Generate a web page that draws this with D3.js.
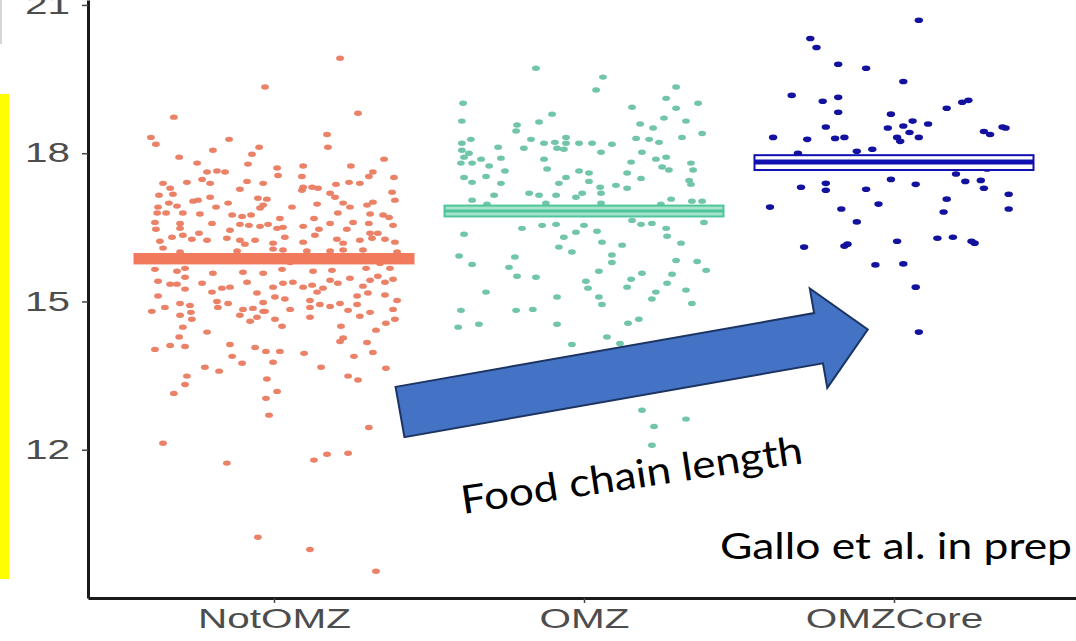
<!DOCTYPE html>
<html>
<head>
<meta charset="utf-8">
<script src="https://cdn.jsdelivr.net/npm/d3@7"></script>
<style>
  html, body { margin: 0; padding: 0; background: #fff; overflow: hidden; }
  svg { display: block; }
</style>
</head>
<body>
<svg id="chart" width="1076" height="641"></svg>
<script>
// ---- data ----
const categories = ["NotOMZ", "OMZ", "OMZCore"];
const yTicks = [12, 15, 18, 21];

// group mean and its interval (crossbars)
const groupMeans = [15.86, 16.83, 17.82];
const groupLow   = [15.77, 16.72, 17.66];
const groupHigh  = [15.96, 16.94, 17.96];

// individual samples: [horizontal jitter (fraction of category step), value]
const notOMZPoints = [
  [0.213,19.92],[-0.029,19.34],[0.271,18.81],[-0.323,18.73],[-0.397,18.32],[-0.381,18.18],[-0.145,18.28],[0.171,18.38],
  [0.174,18.12],[-0.048,18.12],[-0.197,18.06],[-0.071,17.98],[-0.306,17.92],[-0.084,17.78],[-0.248,17.80],[0.355,17.88],
  [0.010,17.70],[0.094,17.74],[0.248,17.74],[-0.216,17.62],[-0.184,17.64],[-0.158,17.62],[0.013,17.55],[0.090,17.53],
  [0.319,17.62],[0.306,17.53],[0.387,17.51],[-0.281,17.41],[-0.232,17.47],[-0.206,17.39],[-0.087,17.43],[-0.035,17.39],
  [0.094,17.31],[0.123,17.31],[0.142,17.29],[0.200,17.37],[0.242,17.41],[0.277,17.39],[-0.358,17.39],[-0.335,17.29],
  [-0.110,17.27],[0.090,17.25],[-0.371,17.15],[-0.326,17.17],[-0.206,17.11],[-0.052,17.09],[-0.023,17.07],[0.181,17.19],
  [0.197,17.11],[0.381,17.21],[-0.261,17.03],[-0.245,17.05],[0.390,17.05],[-0.339,16.99],[-0.148,16.99],[-0.035,16.95],
  [0.223,16.99],[0.139,16.97],[0.319,17.01],[0.300,16.95],[-0.374,16.91],[-0.313,16.93],[-0.187,16.91],[0.058,16.91],
  [-0.045,16.89],[0.245,16.91],[-0.377,16.79],[-0.348,16.79],[-0.294,16.79],[-0.239,16.77],[-0.135,16.75],[-0.103,16.72],
  [-0.074,16.75],[0.019,16.68],[0.129,16.68],[0.206,16.79],[0.310,16.77],[0.352,16.75],[0.371,16.70],[-0.384,16.60],
  [-0.303,16.58],[-0.200,16.58],[-0.110,16.56],[-0.081,16.54],[-0.045,16.52],[-0.019,16.56],[0.029,16.50],[0.094,16.52],
  [0.181,16.58],[0.255,16.60],[0.306,16.58],[0.384,16.54],[-0.381,16.46],[-0.303,16.48],[-0.142,16.44],[0.010,16.48],
  [0.145,16.46],[0.235,16.46],[0.310,16.38],[0.335,16.38],[-0.368,16.22],[-0.329,16.30],[-0.294,16.34],[-0.265,16.26],
  [-0.242,16.38],[-0.216,16.24],[-0.152,16.28],[-0.110,16.24],[-0.094,16.16],[-0.061,16.24],[-0.003,16.18],[0.035,16.30],
  [0.094,16.20],[0.132,16.34],[0.203,16.26],[0.223,16.18],[0.277,16.24],[0.316,16.28],[0.358,16.26],[0.390,16.20],
  [-0.358,16.08],[-0.303,16.00],[-0.119,16.02],[-0.003,16.06],[0.029,16.04],[0.106,16.02],[0.181,16.02],[0.223,16.04],
  [0.287,16.04],[0.397,16.00],[-0.239,15.87],[0.052,15.79],[0.213,15.91],[-0.368,15.83],[0.342,15.77],
  [-0.384,15.65],[-0.313,15.61],[-0.287,15.67],[-0.197,15.57],[-0.100,15.59],[-0.035,15.57],[0.026,15.65],[0.126,15.61],
  [0.187,15.63],[0.297,15.67],[0.374,15.67],[-0.374,15.41],[-0.335,15.35],[-0.313,15.35],[-0.287,15.49],[-0.287,15.25],
  [-0.232,15.37],[-0.200,15.19],[-0.168,15.27],[-0.142,15.29],[-0.087,15.39],[-0.055,15.17],[-0.003,15.29],[0.029,15.37],
  [0.061,15.39],[0.094,15.29],[0.123,15.33],[0.139,15.19],[0.158,15.27],[0.181,15.43],[0.206,15.37],[0.245,15.47],
  [0.287,15.31],[0.310,15.43],[0.335,15.51],[0.358,15.39],[0.384,15.45],[-0.374,15.11],[-0.303,14.96],[-0.271,14.92],
  [-0.184,15.00],[-0.148,14.96],[-0.181,14.88],[-0.100,14.84],[-0.068,14.86],[-0.035,14.98],[-0.035,14.80],[0.003,15.09],
  [0.035,15.05],[0.052,14.84],[0.116,15.02],[0.116,14.88],[0.148,14.94],[0.181,14.90],[0.213,14.96],[0.268,14.94],
  [0.268,15.11],[0.303,15.17],[0.358,15.13],[0.397,15.02],[-0.394,14.80],[-0.352,14.88],[-0.303,14.72],[-0.268,14.78],
  [-0.265,14.64],[-0.110,14.72],[-0.077,14.60],[-0.055,14.68],[-0.029,14.80],[0.003,14.64],[0.116,14.68],[0.239,14.82],
  [0.277,14.70],[0.310,14.78],[0.384,14.84],[0.390,14.64],[-0.294,14.48],[-0.216,14.38],[0.026,14.50],[0.216,14.50],
  [0.223,14.26],[0.213,14.19],[0.329,14.42],[0.361,14.56],[-0.306,14.28],[-0.384,14.03],[-0.335,14.11],[-0.287,14.09],
  [-0.142,14.13],[-0.135,13.89],[-0.061,14.07],[-0.026,13.99],[0.019,13.99],[0.097,13.95],[-0.103,13.75],[-0.003,13.77],
  [0.258,13.89],[0.300,14.17],[0.319,13.97],[-0.223,13.67],[-0.177,13.59],[0.152,13.67],[0.361,13.65],[-0.281,13.49],
  [-0.287,13.32],[0.239,13.49],[0.271,13.41],[-0.323,13.14],[-0.023,13.43],[0.010,13.18],[-0.026,13.04],[-0.358,12.13],
  [-0.152,11.73],[0.129,11.79],[0.171,11.91],[0.239,11.93],[0.306,12.45],[-0.016,12.70],[-0.052,10.23],[0.116,9.98],
  [0.329,9.54]
];

const omzPoints = [
  [-0.155,19.72],[0.061,19.54],[0.039,19.28],[0.297,19.34],[-0.390,19.01],[0.155,18.93],[0.265,19.11],[0.297,18.91],
  [0.368,19.01],[-0.103,18.79],[-0.394,18.65],[-0.216,18.57],[-0.219,18.45],[-0.145,18.63],[0.181,18.59],[0.223,18.51],
  [0.258,18.71],[0.329,18.65],[0.381,18.40],[-0.365,18.28],[-0.394,18.20],[-0.394,18.06],[-0.277,18.12],[-0.171,18.28],
  [-0.129,18.20],[-0.094,18.22],[-0.058,18.32],[-0.058,18.20],[-0.016,18.20],[0.026,18.20],[0.090,18.18],[0.168,18.30],
  [0.210,18.28],[0.242,18.22],[0.316,18.32],[-0.194,18.10],[-0.087,18.10],[-0.065,18.08],[0.055,18.02],[0.187,18.02],
  [-0.387,17.92],[-0.371,18.00],[-0.397,17.80],[-0.361,17.80],[-0.332,17.88],[-0.306,17.74],[-0.268,17.90],[-0.129,17.88],
  [0.152,17.82],[0.232,17.88],[0.265,17.92],[0.252,17.72],[0.345,17.80],[-0.255,17.64],[-0.119,17.68],[-0.016,17.64],
  [0.016,17.60],[0.139,17.60],[0.274,17.66],[0.352,17.66],[-0.387,17.51],[-0.316,17.53],[-0.361,17.41],[-0.268,17.39],
  [-0.058,17.51],[-0.081,17.39],[0.016,17.43],[0.103,17.35],[0.139,17.29],[0.184,17.49],[0.339,17.45],[0.345,17.37],
  [-0.290,17.15],[-0.177,17.19],[-0.145,17.15],[-0.090,17.15],[-0.026,17.11],[-0.006,17.19],[0.052,17.31],[0.055,17.19],
  [-0.361,17.05],[-0.313,16.97],[-0.123,16.99],[0.055,16.99],[0.248,16.97],[0.281,17.07],[0.348,17.03],[0.381,17.03],
  [-0.232,16.85],[0.048,16.79],[0.339,16.87],
  [0.387,16.60],[-0.200,16.48],[-0.135,16.54],[-0.090,16.56],[0.000,16.54],[0.155,16.64],[0.184,16.56],[0.219,16.58],
  [-0.387,16.36],[-0.026,16.40],[0.042,16.42],[0.265,16.48],[0.268,16.32],[-0.065,16.30],[0.058,16.20],[0.313,16.18],
  [-0.081,16.10],[-0.039,16.00],[0.123,16.14],[-0.403,15.92],[-0.223,15.90],[0.090,15.94],[-0.361,15.75],[-0.242,15.69],
  [0.090,15.79],[0.297,15.83],[0.365,15.81],[0.394,15.63],[-0.216,15.51],[-0.155,15.49],[0.048,15.61],[0.187,15.57],
  [0.284,15.55],[-0.316,15.19],[-0.087,15.09],[0.006,15.41],[0.013,15.27],[0.048,15.09],[0.058,14.94],[0.152,15.45],
  [0.139,15.29],[0.232,15.19],[0.219,15.05],[0.268,15.37],[0.329,15.23],[0.348,14.96],[-0.397,14.82],[-0.219,14.82],
  [-0.165,14.84],[-0.406,14.48],[-0.339,14.54],[-0.087,14.54],[0.142,14.56],[0.177,14.64],[0.074,14.28],[0.116,14.15],
  [-0.039,14.13],[-0.081,13.41],[-0.274,13.10],[0.187,12.80],[0.329,12.62],[0.226,12.47],[0.219,12.09]
];

const omzCorePoints = [
  [0.08,20.69],[-0.27,20.32],[-0.25,20.14],[-0.18,19.80],[-0.09,19.72],[0.03,19.45],[-0.33,19.17],[-0.23,19.05],
  [-0.18,19.13],[-0.18,18.83],[-0.01,18.79],[0.17,18.91],[0.22,19.03],[0.24,19.07],[-0.22,18.53],[-0.02,18.51],
  [0.03,18.55],[0.06,18.65],[0.05,18.42],[0.11,18.59],[-0.39,18.32],[-0.28,18.28],[-0.19,18.30],[-0.16,18.32],
  [0.01,18.32],[0.02,18.24],[0.08,18.32],[0.29,18.44],[0.31,18.38],[0.35,18.53],[0.36,18.51],[-0.31,18.00],
  [-0.12,18.04],[-0.07,18.08],[0.33,17.86],[0.30,17.68],[0.20,17.58],[0.23,17.43],[0.28,17.45],[0.29,17.29],
  [-0.01,17.47],[0.07,17.37],[-0.30,17.31],[-0.22,17.39],[-0.22,17.25],[-0.09,17.27],[0.37,17.17],[0.37,16.87],
  [0.17,17.07],[0.16,16.81],[-0.40,16.91],[-0.17,16.87],[-0.05,16.97],[-0.12,16.61],[-0.29,16.10],[-0.16,16.12],
  [-0.15,16.16],[0.01,16.22],[0.14,16.28],[0.19,16.30],[0.25,16.22],[0.26,16.18],[-0.06,15.74],[0.03,15.76],
  [0.07,15.29],[0.08,14.38],[-0.05,17.80],[0.04,17.82]
];

const groupPoints = [notOMZPoints, omzPoints, omzCorePoints];

// ---- styling ----
const pointColors = ["#ea7b60", "#69c2a3", "#12129e"];
const barFill     = ["#f27a5c", "#a6e3cc", "#ffffff"];
const barStroke   = ["#f27a5c", "#4fc69a", "#1010b0"];
const midWidth    = [3, 3, 5];

const svg = d3.select("#chart");
const plot = { left: 88, right: 1080, top: 0, bottom: 598 };

const x = d3.scalePoint().domain(categories).range([plot.left, plot.right]).padding(0.6);
const y = d3.scaleLinear().domain([9, 21.1]).range([plot.bottom, plot.top]);
const step = x.step();

// yellow side bar and faint frame edge at the top-left
svg.append("rect").attr("x", 0).attr("y", 94).attr("width", 9).attr("height", 485).attr("fill", "#ffff00");
svg.append("line").attr("x1", 1).attr("x2", 1).attr("y1", 0).attr("y2", 44)
  .attr("stroke", "#c8c8c8").attr("stroke-width", 1.5);

// jittered samples
categories.forEach((cat, i) => {
  svg.append("g")
    .selectAll("ellipse")
    .data(groupPoints[i])
    .join("ellipse")
    .attr("cx", d => x(cat) + d[0] * step)
    .attr("cy", d => y(d[1]))
    .attr("rx", i === 2 ? 4.2 : 3.9)
    .attr("ry", i === 2 ? 2.8 : 2.7)
    .attr("fill", pointColors[i])
    .attr("opacity", i === 2 ? 1 : 0.95);
});

// crossbars: mean with interval box
categories.forEach((cat, i) => {
  const g = svg.append("g");
  const x0 = x(cat) - 0.45 * step, w = 0.9 * step;
  g.append("rect")
    .attr("x", x0).attr("width", w)
    .attr("y", y(groupHigh[i])).attr("height", y(groupLow[i]) - y(groupHigh[i]))
    .attr("fill", barFill[i]).attr("stroke", barStroke[i]).attr("stroke-width", 2);
  g.append("line")
    .attr("x1", x0).attr("x2", x0 + w)
    .attr("y1", y(groupMeans[i])).attr("y2", y(groupMeans[i]))
    .attr("stroke", barStroke[i]).attr("stroke-width", midWidth[i]);
});

// axes
const fontFam = "'Liberation Sans', Arial, Helvetica, sans-serif";
const stretch = 1.5;

const yAxis = svg.append("g")
  .attr("transform", `translate(${plot.left},0)`)
  .call(d3.axisLeft(y).tickValues(yTicks).tickSizeInner(6).tickSizeOuter(0).tickFormat(d3.format("d")));
const xAxis = svg.append("g")
  .attr("transform", `translate(0,${plot.bottom})`)
  .call(d3.axisBottom(x).tickSizeInner(5).tickSizeOuter(0).tickPadding(6));

[yAxis, xAxis].forEach(a => {
  a.select(".domain").attr("stroke", "#1a1a1a").attr("stroke-width", 3);
  a.selectAll(".tick line").attr("stroke", "#444").attr("stroke-width", 1.5);
  a.selectAll(".tick text")
    .attr("fill", "#4d4d4d")
    .style("font-family", fontFam)
    .style("font-size", "27px");
});
yAxis.selectAll(".tick text").attr("x", -12).attr("transform", `scale(${stretch},1)`);
xAxis.selectAll(".tick text").attr("transform", `scale(${stretch},1)`);

// trend arrow annotation
const arrow = { cx: 400, cy: 412, angle: -10, len: 475, shaft: 51, head: 101, headLen: 50 };
const hs = arrow.shaft / 2, hh = arrow.head / 2, hb = arrow.len - arrow.headLen;
const arrowPts = [[0, -hs], [hb, -hs], [hb, -hh], [arrow.len, 0], [hb, hh], [hb, hs], [0, hs]];
svg.append("polygon")
  .attr("points", arrowPts.map(p => p.join(",")).join(" "))
  .attr("transform", `translate(${arrow.cx},${arrow.cy}) rotate(${arrow.angle})`)
  .attr("fill", "#4472c4")
  .attr("stroke", "#1c3461")
  .attr("stroke-width", 2)
  .attr("stroke-linejoin", "miter");

svg.append("text")
  .attr("transform", "translate(463,514) rotate(-8.5)")
  .attr("textLength", 345)
  .attr("lengthAdjust", "spacingAndGlyphs")
  .style("font-family", "Lato, 'Open Sans', sans-serif")
  .style("font-size", "39px")
  .attr("fill", "#000")
  .text("Food chain length");

svg.append("text")
  .attr("x", 720).attr("y", 559)
  .attr("textLength", 352)
  .attr("lengthAdjust", "spacingAndGlyphs")
  .style("font-family", "Lato, 'Open Sans', sans-serif")
  .style("font-size", "36px")
  .attr("fill", "#000")
  .text("Gallo et al. in prep");
</script>
</body>
</html>
